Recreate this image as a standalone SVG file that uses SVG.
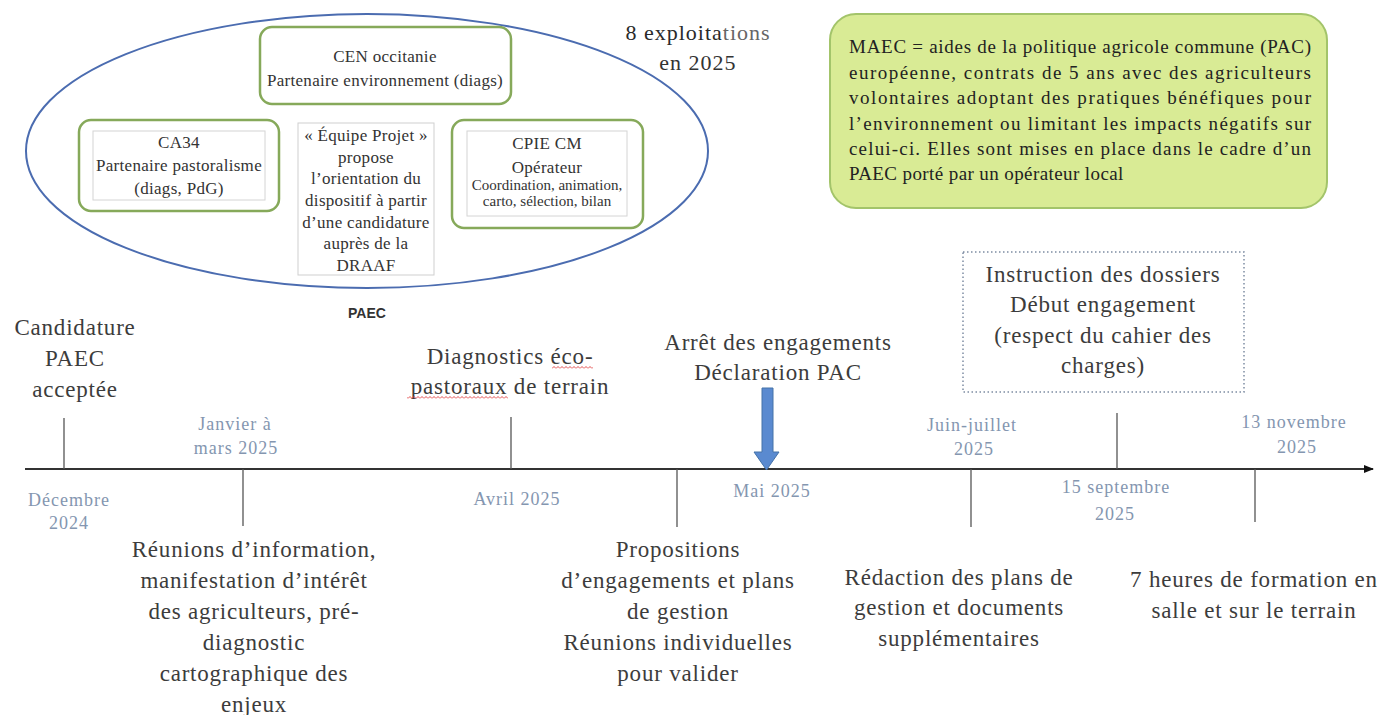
<svg xmlns="http://www.w3.org/2000/svg" width="1384" height="715" viewBox="0 0 1384 715">
<style>
.ev{font-family:"Liberation Serif","DejaVu Serif","Noto Serif",serif;font-size:23px;fill:#3c3c3c;text-anchor:middle;letter-spacing:0.8px}
.dt{font-family:"Liberation Serif","DejaVu Serif","Noto Serif",serif;font-size:18px;fill:#8496b0;text-anchor:middle;letter-spacing:1px}
.bx{font-family:"Liberation Serif","DejaVu Serif","Noto Serif",serif;font-size:17px;fill:#333;text-anchor:middle;letter-spacing:0.3px}
.sm{font-family:"Liberation Serif","DejaVu Serif","Noto Serif",serif;font-size:15px;fill:#333;text-anchor:middle}
.mt{font-family:"Liberation Serif","DejaVu Serif","Noto Serif",serif;font-size:19px;fill:#222}
.ex{font-family:"Liberation Serif","DejaVu Serif","Noto Serif",serif;font-size:22px;text-anchor:middle;letter-spacing:1px}
.grn{fill:#fff;stroke:#86a95a;stroke-width:2.5}
.inr{fill:#fff;stroke:#d4d4d4;stroke-width:1}
.tick{stroke:#555;stroke-width:1.3}
</style>
<defs>
<pattern id="wave" width="4" height="3" patternUnits="userSpaceOnUse">
<path d="M0,2.5 L2,0.5 L4,2.5" fill="none" stroke="#e03a3a" stroke-width="0.9"/>
</pattern>
<marker id="ah" markerWidth="10" markerHeight="8" refX="9" refY="4" orient="auto" markerUnits="userSpaceOnUse">
<path d="M0,0 L10,4 L0,8 Z" fill="#111"/>
</marker>
</defs>
<rect width="1384" height="715" fill="#fff"/>

<g id="paec-ellipse">
<ellipse cx="367" cy="151" rx="341" ry="137" fill="none" stroke="#4b6cb0" stroke-width="2"/>
<text x="367" y="318" font-family="'Liberation Sans',sans-serif" font-size="14" font-weight="bold" fill="#333" text-anchor="middle">PAEC</text>
</g>

<g id="cen">
<rect class="grn" x="260" y="27" width="251" height="77" rx="12"/>
<text class="bx" x="385" y="62">CEN occitanie</text>
<text class="bx" x="385" y="86">Partenaire environnement (diags)</text>
</g>

<g id="ca34">
<rect class="grn" x="79" y="120" width="200" height="91" rx="12"/>
<rect class="inr" x="93" y="131" width="172" height="69"/>
<text class="bx" x="179" y="148">CA34</text>
<text class="bx" x="179" y="171">Partenaire pastoralisme</text>
<text class="bx" x="179" y="194">(diags, PdG)</text>
</g>

<g id="equipe">
<rect x="298" y="123" width="136" height="152" fill="#fff" stroke="#cfcfcf" stroke-width="1"/>
<text class="bx" x="366" y="141">« Équipe Projet »</text>
<text class="bx" x="366" y="163">propose</text>
<text class="bx" x="366" y="184">l’orientation du</text>
<text class="bx" x="366" y="206">dispositif à partir</text>
<text class="bx" x="366" y="228">d’une candidature</text>
<text class="bx" x="366" y="249">auprès de la</text>
<text class="bx" x="366" y="271">DRAAF</text>
</g>

<g id="cpie">
<rect class="grn" x="452" y="120" width="191" height="108" rx="12"/>
<rect class="inr" x="467" y="131" width="160" height="85"/>
<text class="bx" x="547" y="149">CPIE CM</text>
<text class="bx" x="547" y="173" fill="#222">Opérateur</text>
<text class="sm" x="547" y="190">Coordination, animation,</text>
<text class="sm" x="547" y="206">carto, sélection, bilan</text>
</g>

<g id="exploitations">
<text class="ex" x="698" y="40"><tspan fill="#2a2a2a">8 exploita</tspan><tspan fill="#666">tions</tspan></text>
<text class="ex" x="698" y="70" fill="#333">en 2025</text>
</g>

<g id="maec">
<rect x="830" y="14" width="497" height="194" rx="26" fill="#d9eb95" stroke="#a3c46a" stroke-width="2"/>
<text class="mt" x="849" y="53" textLength="462" lengthAdjust="spacing">MAEC = aides de la politique agricole commune (PAC)</text>
<text class="mt" x="849" y="79" textLength="462" lengthAdjust="spacing">européenne, contrats de 5 ans avec des agriculteurs</text>
<text class="mt" x="849" y="104" textLength="462" lengthAdjust="spacing">volontaires adoptant des pratiques bénéfiques pour</text>
<text class="mt" x="849" y="130" textLength="462" lengthAdjust="spacing">l’environnement ou limitant les impacts négatifs sur</text>
<text class="mt" x="849" y="155" textLength="462" lengthAdjust="spacing">celui-ci. Elles sont mises en place dans le cadre d’un</text>
<text class="mt" x="849" y="180" letter-spacing="0.4">PAEC porté par un opérateur local</text>
</g>

<g id="connectors">
<line x1="25" y1="469" x2="1373" y2="469" stroke="#333" stroke-width="1.8" marker-end="url(#ah)"/>
<line class="tick" x1="64" y1="418" x2="64" y2="469"/>
<line class="tick" x1="243" y1="469" x2="243" y2="526"/>
<line class="tick" x1="511" y1="417" x2="511" y2="469"/>
<line class="tick" x1="677" y1="469" x2="677" y2="527"/>
<line class="tick" x1="971" y1="469" x2="971" y2="527"/>
<line class="tick" x1="1117" y1="413" x2="1117" y2="469"/>
<line class="tick" x1="1255" y1="469" x2="1255" y2="522"/>
<path d="M762,388 L773,388 L773,452 L779,452 L766.5,470 L754,452 L762,452 Z" fill="#5a8ad0" stroke="#4472a8" stroke-width="1"/>
</g>

<g id="dates">
<text class="dt" x="69" y="506">Décembre</text>
<text class="dt" x="69" y="529">2024</text>
<text class="dt" x="235" y="430">Janvier à</text>
<text class="dt" x="236" y="454">mars 2025</text>
<text class="dt" x="517" y="505">Avril 2025</text>
<text class="dt" x="772" y="497">Mai 2025</text>
<text class="dt" x="972" y="431">Juin-juillet</text>
<text class="dt" x="974" y="455">2025</text>
<text class="dt" x="1116" y="493">15 septembre</text>
<text class="dt" x="1115" y="520">2025</text>
<text class="dt" x="1294" y="428">13 novembre</text>
<text class="dt" x="1297" y="453">2025</text>
</g>

<g id="candidature">
<text class="ev" x="75" y="335">Candidature</text>
<text class="ev" x="75" y="366">PAEC</text>
<text class="ev" x="75" y="397">acceptée</text>
</g>

<g id="diagnostics">
<text class="ev" x="510" y="364">Diagnostics éco-</text>
<text class="ev" x="510" y="394">pastoraux de terrain</text>
<rect x="552" y="366" width="41" height="3" fill="url(#wave)"/>
<rect x="407" y="396" width="101" height="3" fill="url(#wave)"/>
</g>

<g id="arret">
<text class="ev" x="778" y="350">Arrêt des engagements</text>
<text class="ev" x="778" y="380">Déclaration PAC</text>
</g>

<g id="instruction">
<rect x="963" y="252" width="281" height="140" fill="none" stroke="#7d8ca3" stroke-width="1.5" stroke-dasharray="1.5 2.5"/>
<text class="ev" x="1103" y="282">Instruction des dossiers</text>
<text class="ev" x="1103" y="312">Début engagement</text>
<text class="ev" x="1103" y="343">(respect du cahier des</text>
<text class="ev" x="1103" y="373">charges)</text>
</g>

<g id="reunions">
<text class="ev" x="254" y="557">Réunions d’information,</text>
<text class="ev" x="254" y="588">manifestation d’intérêt</text>
<text class="ev" x="254" y="619">des agriculteurs, pré-</text>
<text class="ev" x="254" y="650">diagnostic</text>
<text class="ev" x="254" y="681">cartographique des</text>
<text class="ev" x="254" y="712">enjeux</text>
</g>

<g id="propositions">
<text class="ev" x="678" y="557">Propositions</text>
<text class="ev" x="678" y="588">d’engagements et plans</text>
<text class="ev" x="678" y="619">de gestion</text>
<text class="ev" x="678" y="650">Réunions individuelles</text>
<text class="ev" x="678" y="681">pour valider</text>
</g>

<g id="redaction">
<text class="ev" x="959" y="585">Rédaction des plans de</text>
<text class="ev" x="959" y="615">gestion et documents</text>
<text class="ev" x="959" y="646">supplémentaires</text>
</g>

<g id="formation">
<text class="ev" x="1254" y="587">7 heures de formation en</text>
<text class="ev" x="1254" y="618">salle et sur le terrain</text>
</g>
</svg>
